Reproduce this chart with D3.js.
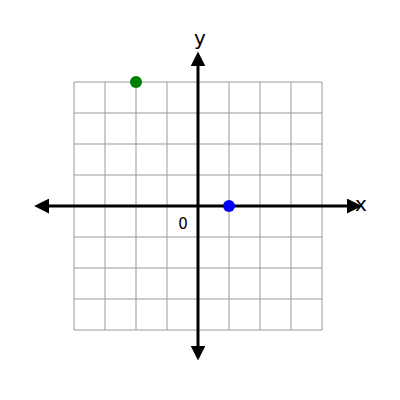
<!DOCTYPE html>
<html><head><meta charset="utf-8">
<script src="https://cdn.jsdelivr.net/npm/d3@7"></script>
<style>body{margin:0;background:#fff}</style>
</head><body>
<svg id="chart" width="400" height="400"></svg>
<script>
const gridTicks = [-4, -3, -2, -1, 0, 1, 2, 3, 4]
const pointsX = [-2, 1]
const pointsY = [4, 0]
const pointColors = ['green', 'blue']

const svg = d3.select('#chart')
const x = d3.scaleLinear().domain([-4, 4]).range([74, 322])
const y = d3.scaleLinear().domain([-4, 4]).range([330, 82])

// grid
svg.selectAll('.vgrid').data(gridTicks).enter().append('line')
  .attr('x1', d => x(d)).attr('x2', d => x(d))
  .attr('y1', y(-4)).attr('y2', y(4))
  .attr('stroke', '#999').attr('stroke-width', 1)
svg.selectAll('.hgrid').data(gridTicks).enter().append('line')
  .attr('y1', d => y(d)).attr('y2', d => y(d))
  .attr('x1', x(-4)).attr('x2', x(4))
  .attr('stroke', '#999').attr('stroke-width', 1)

// arrow markers
const defs = svg.append('defs')
defs.append('marker').attr('id', 'arr').attr('viewBox', '0 0 10 10')
  .attr('refX', 2).attr('refY', 5).attr('markerWidth', 5).attr('markerHeight', 5)
  .attr('orient', 'auto-start-reverse').attr('markerUnits', 'strokeWidth')
  .append('path').attr('d', 'M0,0L10,5L0,10z').attr('fill', '#000')

svg.append('line').attr('x1', x(-4.9)).attr('x2', x(4.9))
  .attr('y1', y(0)).attr('y2', y(0))
  .attr('stroke', '#000').attr('stroke-width', 3)
  .attr('marker-start', 'url(#arr)').attr('marker-end', 'url(#arr)')
svg.append('line').attr('x1', x(0)).attr('x2', x(0))
  .attr('y1', y(-4.6)).attr('y2', y(4.6))
  .attr('stroke', '#000').attr('stroke-width', 3)
  .attr('marker-start', 'url(#arr)').attr('marker-end', 'url(#arr)')

svg.append('text').attr('x', 355).attr('y', 211).text('x')
  .attr('font-family', 'DejaVu Sans').attr('font-size', 20)
svg.append('text').attr('x', 200).attr('y', 45).text('y')
  .attr('font-family', 'DejaVu Sans').attr('font-size', 20).attr('text-anchor', 'middle')
svg.append('text').attr('x', 183).attr('y', 229).text('0')
  .attr('font-family', 'DejaVu Sans').attr('font-size', 15).attr('text-anchor', 'middle')

svg.selectAll('.pt').data(pointsX).enter().append('circle')
  .attr('cx', d => x(d)).attr('cy', (d, i) => y(pointsY[i]))
  .attr('r', 6).attr('fill', (d, i) => pointColors[i])
</script>
</body></html>
